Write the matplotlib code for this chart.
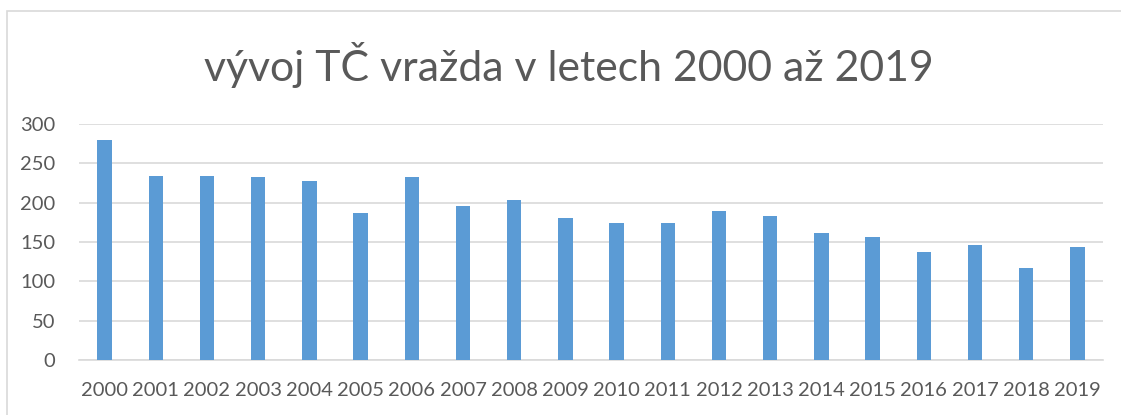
import matplotlib.pyplot as plt
from matplotlib.patches import Rectangle

years = [str(y) for y in range(2000, 2020)]
cases = [280, 234, 234, 233, 228, 187, 232, 196, 203, 181,
         174, 174, 189, 183, 161, 156, 137, 146, 117, 144]

plt.rcParams['font.family'] = ['Lato', 'DejaVu Sans']

fig = plt.figure(figsize=(11.21, 4.15), dpi=100)
ax = fig.add_axes([79 / 1121, 1 - 360 / 415, (1103 - 79) / 1121, (360 - 124) / 415])

# chart frame like in Excel
fig.patches.append(Rectangle((7 / 1121, -0.1), 1.2, 1 - 11 / 415 + 0.1,
                             transform=fig.transFigure, fill=False,
                             edgecolor='#d9d9d9', linewidth=1.2))

ax.bar(years, cases, width=0.28, color='#5b9bd5', zorder=3)

ax.set_ylim(0, 300)
ax.set_xlim(-0.5, len(years) - 0.5)
ax.set_yticks(range(0, 301, 50))
ax.grid(axis='y', color='#d9d9d9', linewidth=1.2, zorder=0)
for side in ['top', 'right', 'left']:
    ax.spines[side].set_visible(False)
ax.spines['bottom'].set_color('#d9d9d9')
ax.spines['bottom'].set_linewidth(1.2)
ax.tick_params(length=0, labelsize=14.5, colors='#595959')
ax.tick_params(axis='x', pad=16)
ax.tick_params(axis='y', pad=17)

fig.text(569 / 1121, 1 - 65 / 415, 'vývoj TČ vražda v letech 2000 až 2019',
         ha='center', va='center', fontsize=30.8, color='#595959')

fig.savefig('out.png', dpi=100)
